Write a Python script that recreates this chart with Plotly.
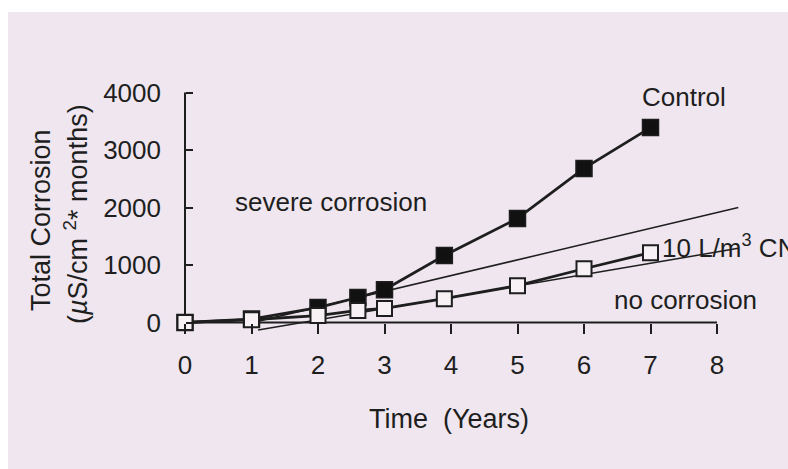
import plotly.graph_objects as go

# ---- data ----
years = [0, 1, 2, 2.6, 3, 3.9, 5, 6, 7]
control = [0, 60, 260, 435, 570, 1165, 1810, 2680, 3390]
cni_10 = [0, 50, 120, 210, 245, 415, 640, 935, 1215]

severe_x = [1.1, 8.32]
severe_y = [20, 2000]
nocorr_x = [1.1, 8.32]
nocorr_y = [-130, 1290]

x_ticks = [0, 1, 2, 3, 4, 5, 6, 7, 8]
y_ticks = [0, 1000, 2000, 3000, 4000]

# ---- layout geometry (page pixels; body margin removed below) ----
W, H = 788, 469
X0_PX, X_SCALE = 185, 66.5        # px of year 0, px per year
Y0_PX, Y_SCALE = 322.5, 0.0575    # px of value 0, px per unit
ML, MR, MT, MB = 165, 4, 70, 124  # figure margins
PW = W - ML - MR
PH = H - MT - MB
left_px, right_px = ML, ML + PW
top_px, bot_px = MT, MT + PH
XR = [(left_px - X0_PX) / X_SCALE, (right_px - X0_PX) / X_SCALE]
YR = [(Y0_PX - bot_px) / Y_SCALE, (Y0_PX - top_px) / Y_SCALE]

def px_x(px):
    return (px - left_px) / PW

def px_y(py):
    return (bot_px - py) / PH

INK = "#1e1e1e"
BG = "#efe6ef"
FONT = "Liberation Sans, Arial, Helvetica, sans-serif"

fig = go.Figure()

fig.add_trace(go.Scatter(x=severe_x, y=severe_y, mode="lines",
                         line=dict(color=INK, width=1.5), hoverinfo="skip"))
fig.add_trace(go.Scatter(x=nocorr_x, y=nocorr_y, mode="lines",
                         line=dict(color=INK, width=1.5), hoverinfo="skip"))
fig.add_trace(go.Scatter(x=years, y=control, mode="lines+markers", name="Control",
                         line=dict(color=INK, width=2.8),
                         marker=dict(symbol="square", size=16, color="#111111",
                                     line=dict(color=INK, width=1.5)),
                         cliponaxis=False))
fig.add_trace(go.Scatter(x=years, y=cni_10, mode="lines+markers", name="10 L/m3 CNI",
                         line=dict(color=INK, width=2.8),
                         marker=dict(symbol="square", size=15, color="#f7f1f6",
                                     line=dict(color=INK, width=2)),
                         cliponaxis=False))

shapes = [
    dict(type="rect", xref="paper", yref="paper",
         x0=px_x(8), x1=px_x(800), y0=px_y(12), y1=px_y(480),
         fillcolor=BG, line=dict(width=0), layer="below"),
    dict(type="line", xref="x", yref="y", x0=0, x1=8, y0=0, y1=0,
         line=dict(color=INK, width=2), layer="below"),
    dict(type="line", xref="x", yref="y", x0=0, x1=0, y0=0, y1=4000,
         line=dict(color=INK, width=2), layer="below"),
]

tick_font = dict(family=FONT, size=26, color=INK)
ann_font = dict(family=FONT, size=26, color=INK)
title_font = dict(family=FONT, size=27, color=INK)

annotations = [
    dict(text="Control", x=px_x(640), y=px_y(97), xanchor="left", font=ann_font),
    dict(text="severe corrosion", x=px_x(233), y=px_y(202), xanchor="left", font=ann_font),
    dict(text="10 L/m<sup>3</sup> CNI", x=px_x(660), y=px_y(246), xanchor="left", font=ann_font),
    dict(text="no corrosion", x=px_x(612), y=px_y(300), xanchor="left", font=ann_font),
    dict(text="Time  (Years)", x=px_x(449), y=px_y(419), xanchor="center", font=title_font),
    dict(text="Total Corrosion", x=px_x(41), y=px_y(220), xanchor="center",
         textangle=-90, font=title_font),
    dict(text="(<i>µ</i>S/cm <sup>2</sup>* months)", x=px_x(76), y=px_y(214), xanchor="center",
         textangle=-90, font=title_font),
]
for a in annotations:
    a.update(xref="paper", yref="paper", showarrow=False, yanchor="middle")

fig.update_layout(
    width=W, height=H,
    margin=dict(l=ML, r=MR, t=MT, b=MB, pad=0),
    paper_bgcolor="white", plot_bgcolor="rgba(0,0,0,0)",
    showlegend=False,
    shapes=shapes, annotations=annotations,
    font=tick_font,
    xaxis=dict(range=XR, tickvals=x_ticks, ticks="outside", ticklen=10, tickwidth=2,
               tickcolor=INK, showgrid=False, zeroline=False, showline=False,
               anchor="free", position=(0 - YR[0]) / (YR[1] - YR[0]),
               tickfont=tick_font, ticklabelstandoff=9),
    yaxis=dict(range=YR, tickvals=y_ticks, ticks="inside", ticklen=7, tickwidth=2,
               tickcolor=INK, showgrid=False, zeroline=False, showline=False,
               anchor="free", position=(0 - XR[0]) / (XR[1] - XR[0]),
               tickfont=tick_font, ticklabelstandoff=24),
)

fig.write_html(
    "out.html",
    config={"displayModeBar": False},
    post_script=("document.documentElement.style.overflow='hidden';"
                 "document.body.style.overflow='hidden';"
                 "document.body.style.margin='0';"),
)
